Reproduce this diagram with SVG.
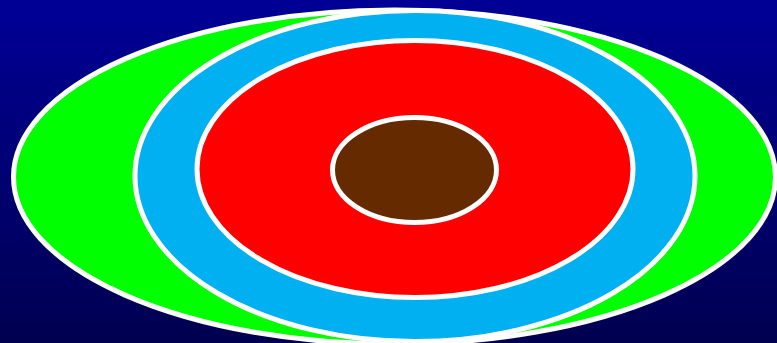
<svg xmlns="http://www.w3.org/2000/svg" width="777" height="343" viewBox="0 0 777 343">
<defs>
<linearGradient id="bg" x1="0" y1="0" x2="0" y2="1">
<stop offset="0" stop-color="#000096"/>
<stop offset="1" stop-color="#000050"/>
</linearGradient>
<style>
.e{stroke:#fff;stroke-width:5}
</style>
</defs>
<rect width="777" height="343" fill="url(#bg)"/>
<g id="green"><ellipse class="e" cx="394.5" cy="177" rx="381" ry="167" fill="#00ff00"/></g>
<g id="blue"><ellipse class="e" cx="415" cy="176" rx="280" ry="165.5" fill="#00b0f0"/></g>
<g id="red"><ellipse class="e" cx="415" cy="169" rx="218" ry="128.5" fill="#ff0000"/></g>
<g id="brown"><ellipse class="e" cx="414.5" cy="170" rx="82" ry="52.5" fill="#662a00"/></g>
</svg>
